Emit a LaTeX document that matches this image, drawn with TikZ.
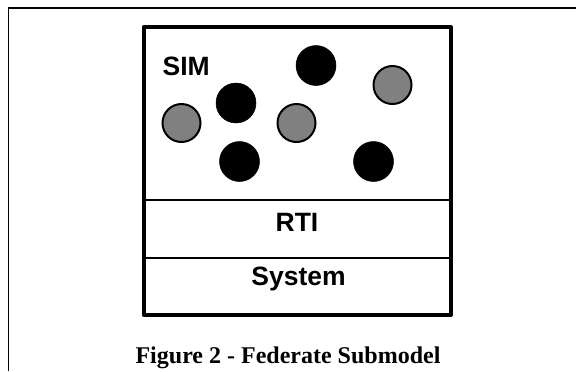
\documentclass[tikz,border=0pt]{standalone}
\usepackage{fontspec}
\setmainfont{Liberation Serif}
\setsansfont{Liberation Sans}
\begin{document}
\begin{tikzpicture}[x=1bp,y=-1bp,
  layer/.style={draw=black,line width=2.5bp},
  outline/.style={draw=black,line width=4bp,line join=round},
  label/.style={font=\sffamily\bfseries\fontsize{26.5bp}{30bp}\selectfont,inner sep=0pt},
  dark/.style={circle,fill=black,draw=black,line width=0.5bp,minimum size=40bp,inner sep=0pt},
  grey/.style={circle,fill=black!50,draw=black,line width=2bp,minimum size=38bp,inner sep=0pt},
  caption/.style={font=\rmfamily\bfseries\fontsize{24bp}{28bp}\selectfont,inner sep=0pt,anchor=base}]
\useasboundingbox (0,0) rectangle (576,371);
% page frame (top and left rules)
\coordinate (frameL) at (8.5,371);
\coordinate (frameC) at (8.5,8);
\coordinate (frameR) at (576,8);
\draw[line width=1.3bp] (frameL) -- (frameC) -- (frameR);
% federate box with its three layers
\coordinate (boxNW) at (143.5,27);
\coordinate (boxSE) at (451,315);
\coordinate (d1L) at (143.5,200);
\coordinate (d1R) at (451,200);
\coordinate (d2L) at (143.5,258);
\coordinate (d2R) at (451,258);
\draw[layer] (d1L) -- (d1R);
\draw[layer] (d2L) -- (d2R);
\draw[outline] (boxNW) rectangle (boxSE);
% layer labels
\node[label,anchor=west] (sim) at (162.5,66) {SIM};
\node[label] (rti) at (297,222) {RTI};
\node[label] (sys) at (298.5,279) {System};
% simulation objects
\node[dark] (o1) at (316,65.5) {};
\node[grey] (o2) at (392.5,85) {};
\node[dark] (o3) at (236,103) {};
\node[grey] (o4) at (181.5,123) {};
\node[grey] (o5) at (296.5,123) {};
\node[dark] (o6) at (239.5,161.5) {};
\node[dark] (o7) at (373.5,161.5) {};
% caption
\node[caption] (cap) at (288,363) {Figure 2 - Federate Submodel};
\end{tikzpicture}
\end{document}
